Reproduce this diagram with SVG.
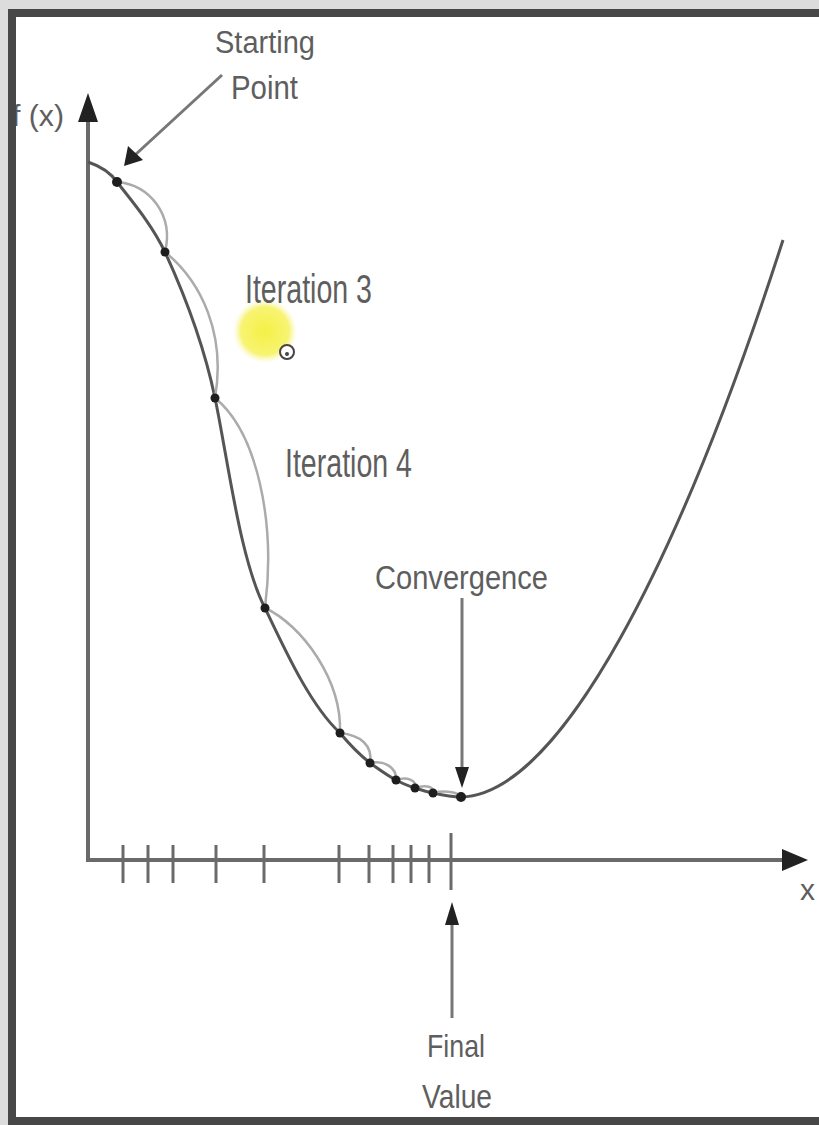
<svg xmlns="http://www.w3.org/2000/svg" width="819" height="1125" viewBox="0 0 819 1125">
<defs>
<style>
.lbl{font-family:"Liberation Sans",Arial,sans-serif;fill:#5e5e5e;}
.axis{stroke:#6a6a6a;stroke-width:4;fill:none;}
.curve{stroke:#555;stroke-width:3;fill:none;}
.step{stroke:#ababab;stroke-width:2.5;fill:none;}
.tick{stroke:#6a6a6a;stroke-width:3;}
.dot{fill:#1e1e1e;}
.ptr{stroke:#777;stroke-width:3;fill:none;}
.head{fill:#222;}
</style>
<radialGradient id="hl" cx="0.5" cy="0.5" r="0.5">
<stop offset="0" stop-color="#f4ef3a" stop-opacity="0.95"/>
<stop offset="0.75" stop-color="#f6f25a" stop-opacity="0.85"/>
<stop offset="1" stop-color="#f8f6a0" stop-opacity="0"/>
</radialGradient>
</defs>
<rect x="0" y="0" width="819" height="1125" fill="#dcdcdc"/>
<rect x="12" y="13" width="820" height="1108" fill="#ffffff"/>

<g id="highlight">
<circle cx="265" cy="331" r="32" fill="url(#hl)"/>
</g>

<g id="axes">
<line class="axis" x1="88" y1="118" x2="88" y2="860"/>
<line class="axis" x1="86" y1="860" x2="788" y2="860"/>
<polygon class="head" points="88,93 78,122 98,122"/>
<polygon class="head" points="808,860 782,849 782,871"/>
<g id="ticks">
<line class="tick" x1="123" y1="845" x2="123" y2="883"/>
<line class="tick" x1="148" y1="845" x2="148" y2="883"/>
<line class="tick" x1="173" y1="845" x2="173" y2="883"/>
<line class="tick" x1="216" y1="845" x2="216" y2="883"/>
<line class="tick" x1="264" y1="845" x2="264" y2="883"/>
<line class="tick" x1="339" y1="845" x2="339" y2="883"/>
<line class="tick" x1="369" y1="845" x2="369" y2="883"/>
<line class="tick" x1="393" y1="845" x2="393" y2="883"/>
<line class="tick" x1="411" y1="845" x2="411" y2="883"/>
<line class="tick" x1="429" y1="845" x2="429" y2="883"/>
<line class="tick" x1="451" y1="833" x2="451" y2="890"/>
</g>
<text id="fx-label" class="lbl" x="64" y="126" font-size="30" text-anchor="end" textLength="52" lengthAdjust="spacingAndGlyphs">f (x)</text>
<text id="x-label" class="lbl" x="800" y="900" font-size="30">x</text>
</g>

<g id="function-curve">
<path class="curve" d="M88,162 C100,166 110,172 117,182 C135,205 152,225 165,252 C187,300 205,350 215,398 C228,460 240,560 265,608 C285,650 310,705 340,733 C350,745 360,755 370,763 C380,770 388,776 396,780 C403,784 409,786 415,788 C421,790 427,792 433,793 C442,795 452,797 461,797 C560,795 680,560 783,240"/>
</g>

<g id="connectors">
<path class="step" d="M117,182 C150,185 174,215 165,252"/>
<path class="step" d="M165,252 C202,282 226,335 215,398"/>
<path class="step" d="M215,398 C257,432 276,522 265,608"/>
<path class="step" d="M265,608 C302,625 342,680 340,733"/>
<path class="step" d="M340,733 C360,735 373,745 370,763"/>
<path class="step" d="M370,763 C385,760 397,768 396,780"/>
<path class="step" d="M396,780 C408,776 417,781 415,788"/>
<path class="step" d="M415,788 C426,784 435,787 433,793"/>
<path class="step" d="M433,793 C445,790 458,792 461,797"/>
<line class="ptr" x1="222" y1="75" x2="135" y2="155"/>
<polygon class="head" points="124,166 128,146 143,160"/>
<line class="ptr" x1="462" y1="598" x2="462" y2="772"/>
<polygon class="head" points="462,788 455,767 469,767"/>
<line class="ptr" x1="452" y1="918" x2="452" y2="1018"/>
<polygon class="head" points="452,902 445,925 459,925"/>
</g>

<g id="iterates">
<circle class="dot" cx="117" cy="182" r="5"/>
<circle class="dot" cx="165" cy="252" r="4.5"/>
<circle class="dot" cx="215" cy="398" r="4.5"/>
<circle class="dot" cx="265" cy="608" r="4.5"/>
<circle class="dot" cx="340" cy="733" r="4.5"/>
<circle class="dot" cx="370" cy="763" r="4.5"/>
<circle class="dot" cx="396" cy="780" r="4.5"/>
<circle class="dot" cx="415" cy="788" r="4.5"/>
<circle class="dot" cx="433" cy="793" r="4.5"/>
<circle class="dot" cx="461" cy="797" r="5"/>
</g>

<g id="starting-point">
<text class="lbl" x="215" y="53" font-size="31" textLength="100" lengthAdjust="spacingAndGlyphs">Starting</text>
<text class="lbl" x="231" y="99" font-size="33" textLength="67" lengthAdjust="spacingAndGlyphs">Point</text>
</g>
<g id="iteration-3">
<text class="lbl" x="245" y="303" font-size="40" textLength="127" lengthAdjust="spacingAndGlyphs">Iteration 3</text>
</g>
<g id="iteration-4">
<text class="lbl" x="285" y="477" font-size="40" textLength="127" lengthAdjust="spacingAndGlyphs">Iteration 4</text>
</g>
<g id="convergence">
<text class="lbl" x="375" y="589" font-size="34" textLength="173" lengthAdjust="spacingAndGlyphs">Convergence</text>
</g>
<g id="final-value">
<text class="lbl" x="456" y="1057" font-size="32" text-anchor="middle" textLength="58" lengthAdjust="spacingAndGlyphs">Final</text>
<text class="lbl" x="457" y="1108" font-size="33" text-anchor="middle" textLength="70" lengthAdjust="spacingAndGlyphs">Value</text>
</g>

<g id="cursor">
<circle cx="287" cy="352" r="7" fill="#ffffff" stroke="#444" stroke-width="2"/>
<circle cx="287" cy="354" r="2" fill="#444"/>
</g>

<rect x="12" y="13" width="820" height="1108" fill="none" stroke="#474747" stroke-width="8"/>
</svg>
